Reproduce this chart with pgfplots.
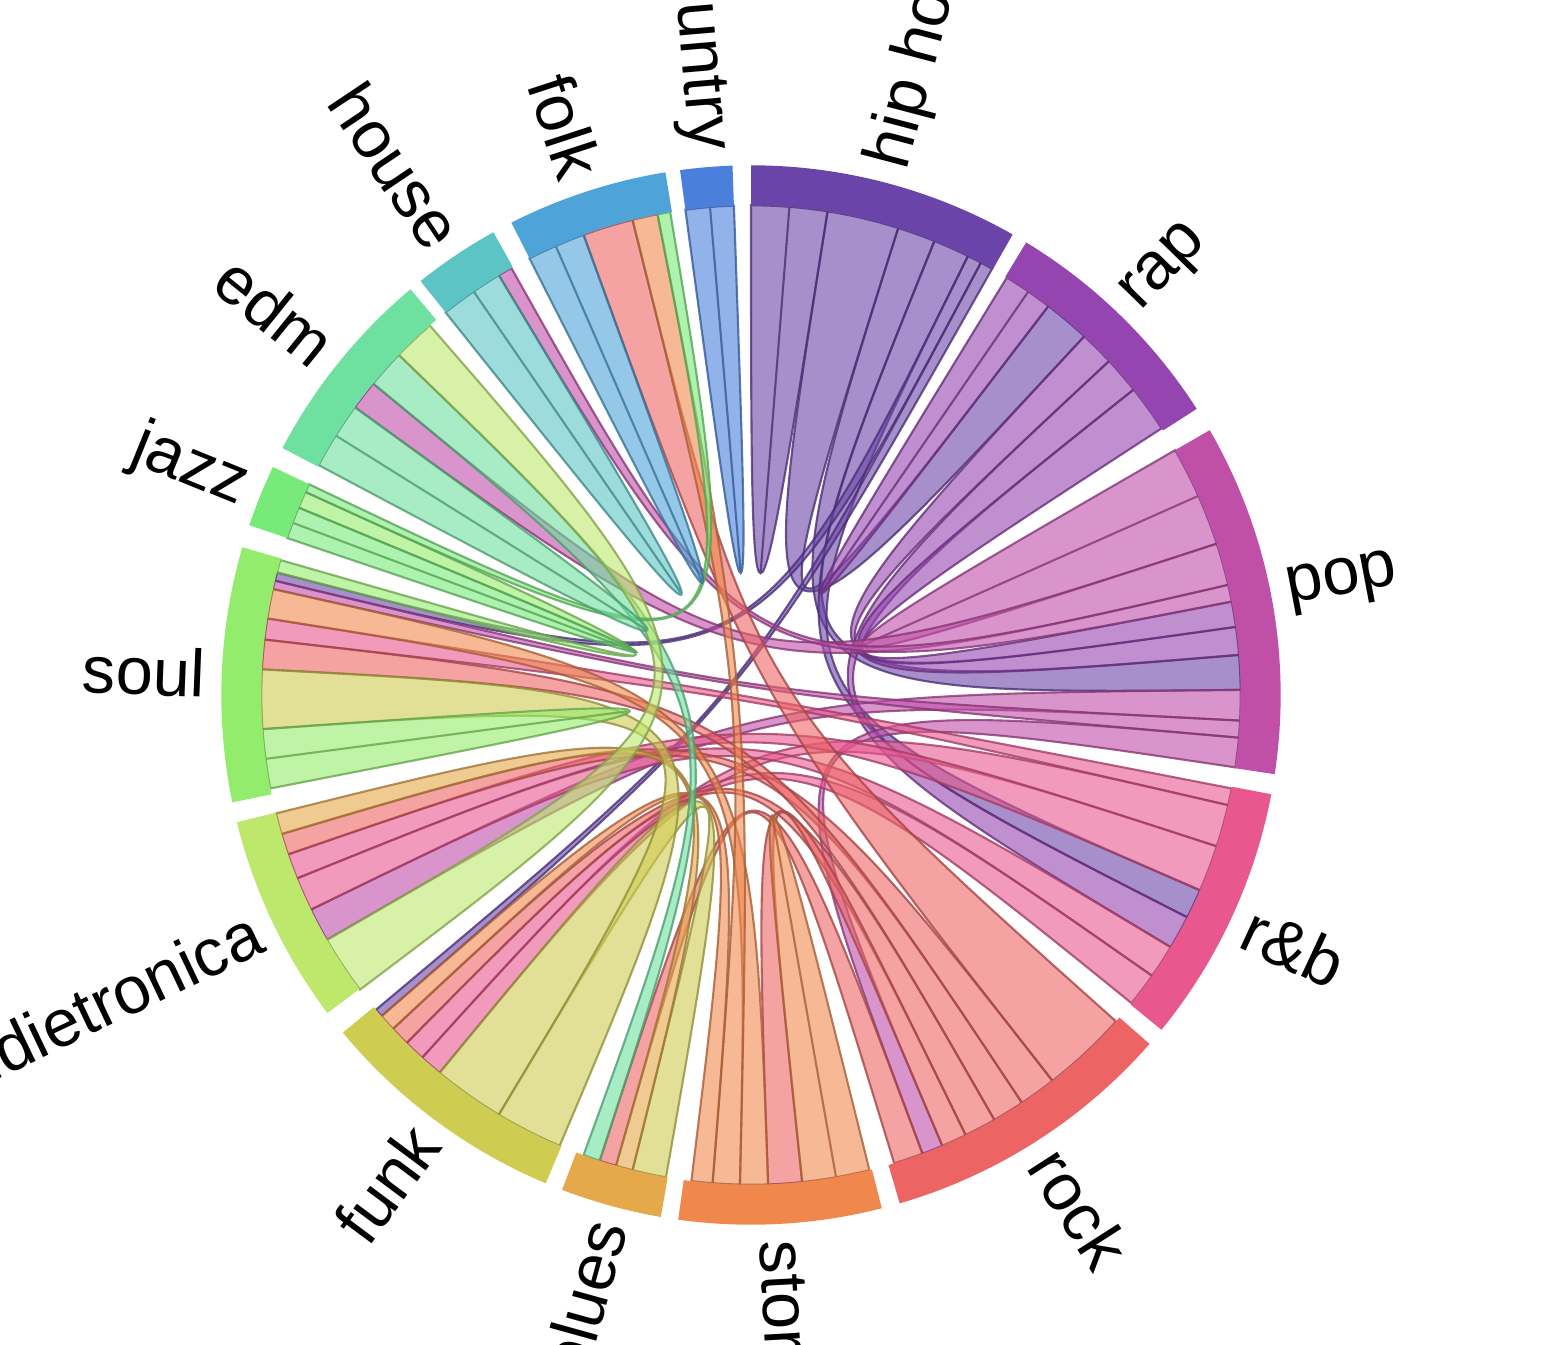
\documentclass[border=0pt]{standalone}
\usepackage{pgfplots}
\pgfplotsset{compat=1.18}
\usepackage{fontspec}
\setmainfont{Liberation Sans}
\definecolor{hh}{HTML}{6A44A8}
\definecolor{rap}{HTML}{9445B0}
\definecolor{pop}{HTML}{C04FA8}
\definecolor{rb}{HTML}{E8578E}
\definecolor{rock}{HTML}{EC6464}
\definecolor{storm}{HTML}{F0884E}
\definecolor{blues}{HTML}{E5A84A}
\definecolor{funk}{HTML}{CFCC52}
\definecolor{indie}{HTML}{BDE86C}
\definecolor{soul}{HTML}{94EC6C}
\definecolor{jazz}{HTML}{78EA7A}
\definecolor{edm}{HTML}{6EE0A0}
\definecolor{house}{HTML}{5CC4C4}
\definecolor{folk}{HTML}{4EA3D8}
\definecolor{country}{HTML}{4A7FDC}
\newcommand\lab{\fontsize{19}{22}\selectfont}
\newcommand\rib[5]{\fill[fill=#5,fill opacity=0.6,draw=#5!70!black,draw opacity=0.8,line width=0.6pt] (#1:490) arc[start angle=#1,end angle=#2,radius=490] .. controls (0,0) .. (#3:490) arc[start angle=#3,end angle=#4,radius=490] .. controls (0,0) .. cycle;}
\newcommand\grp[4]{\fill[#3] (#1:490) arc[start angle=#1,end angle=#2,radius=490] -- (#2:530) arc[start angle=#2,end angle=#1,radius=530] -- cycle;}
\newcommand\labR[3]{\node[rotate=#1,anchor=west,inner sep=0pt,font=\lab] at (#1:546) {#3};}
\newcommand\labL[3]{\node[rotate=#2,anchor=east,inner sep=0pt,font=\lab] at (#1:546) {#3};}
\begin{document}
\begin{tikzpicture}
\begin{axis}[hide axis, scale only axis, width=15.42cm, height=13.44cm,
  xmin=0,xmax=1542,ymin=0,ymax=1344, clip=false]
\addplot[draw=none] coordinates {(0,0) (1542,1344)};
\begin{scope}[shift={(axis cs:751,649)}, x=0.01cm, y=0.01cm]
\rib{90}{85.5}{85.5}{81}{hh}
\rib{81}{72.5}{52.6}{47.1}{hh}
\rib{72.5}{68}{4.7}{0.6}{hh}
\rib{68}{63.7}{-23.5}{-27}{hh}
\rib{63.7}{62}{-193.5}{-194.5}{hh}
\rib{62}{60.5}{-139}{-140}{hh}
\rib{58.5}{55.5}{55.5}{52.6}{rap}
\rib{47.1}{43}{8}{4.7}{rap}
\rib{43}{38.6}{-27}{-31}{rap}
\rib{38.6}{33}{11}{8}{rap}
\rib{30}{24}{24}{18}{pop}
\rib{18}{13}{144}{140.5}{pop}
\rib{13}{11}{121}{119.3}{pop}
\rib{0.6}{-3}{-150}{-154}{pop}
\rib{-3}{-5}{-192.5}{-193.5}{pop}
\rib{-5}{-8.5}{-67}{-69.5}{pop}
\rib{-11}{-13}{-186.5}{-189}{rb}
\rib{-13}{-18}{-129.5}{-132.2}{rb}
\rib{-18}{-23.5}{-158}{-161}{rb}
\rib{-31}{-35}{-154}{-158}{rb}
\rib{-35}{-39}{-132.2}{-134.7}{rb}
\rib{-41.8}{-52}{110}{104}{rock}
\rib{-52}{-56.4}{-161}{-163.5}{rock}
\rib{-56.4}{-60.2}{-183}{-186.5}{rock}
\rib{-60.2}{-64}{-134.7}{-137}{rock}
\rib{-64}{-67}{-84}{-88}{rock}
\rib{-69.5}{-73}{-106}{-108}{rock}
\rib{-76}{-80}{-80}{-84}{storm}
\rib{-88}{-91.3}{-189}{-192.5}{storm}
\rib{-91.3}{-94.5}{104}{101}{storm}
\rib{-94.5}{-97}{-137}{-139}{storm}
\rib{-121}{-129.5}{-100}{-104}{funk}
\rib{-104}{-106}{-163.5}{-166}{blues}
\rib{140.5}{136}{-108}{-110}{edm}
\rib{-113}{-121}{-176}{-183}{funk}
\rib{-169}{-172.5}{-172.5}{-176}{soul}
\rib{-143}{-150}{136}{131}{indie}
\rib{-194.5}{-196}{157.5}{155.5}{soul}
\rib{161.3}{159.4}{159.4}{157.5}{jazz}
\rib{155.5}{154.5}{101}{99.5}{jazz}
\rib{152}{148}{148}{144}{edm}
\rib{128.6}{124.5}{124.5}{121}{house}
\rib{116.9}{113.5}{113.5}{110}{folk}
\rib{97.7}{94.8}{94.8}{92}{country}
\grp{90}{60.4}{hh}{}
\grp{58.7}{32.7}{rap}{}
\grp{30}{-8.6}{pop}{}
\grp{-10.8}{-39.2}{rb}{}
\grp{-41.2}{-73.7}{rock}{}
\grp{-75.7}{-97.9}{storm}{}
\grp{-99.8}{-110.9}{blues}{}
\grp{-112.8}{-140.4}{funk}{}
\grp{-143.1}{-166.1}{indie}{}
\grp{-168.3}{-196.2}{soul}{}
\grp{161.3}{154.5}{jazz}{}
\grp{152.2}{130}{edm}{}
\grp{128.6}{119.1}{house}{}
\grp{116.9}{99.3}{folk}{}
\grp{97.7}{92}{country}{}
\labR{75.25}{}{hip hop}
\labR{45.75}{}{rap}
\labR{10.75}{}{pop}
\labR{-24.9}{}{r\&b}
\labR{-57.35}{}{rock}
\labR{-86.85}{}{storm}
\labL{-105.5}{74.5}{blues}
\labL{-126.7}{53.3}{funk}
\labL{-154.6}{25.4}{indietronica}
\labL{-182.25}{-2.25}{soul}
\labL{157.9}{-22.1}{jazz}
\labL{141.1}{-38.9}{edm}
\labL{123.85}{-56.15}{house}
\labL{108.1}{-71.9}{folk}
\labL{94.85}{-85.15}{country}
\end{scope}
\end{axis}
\pgfresetboundingbox
\path (current axis.south west) rectangle (current axis.north east);
\end{tikzpicture}
\end{document}
